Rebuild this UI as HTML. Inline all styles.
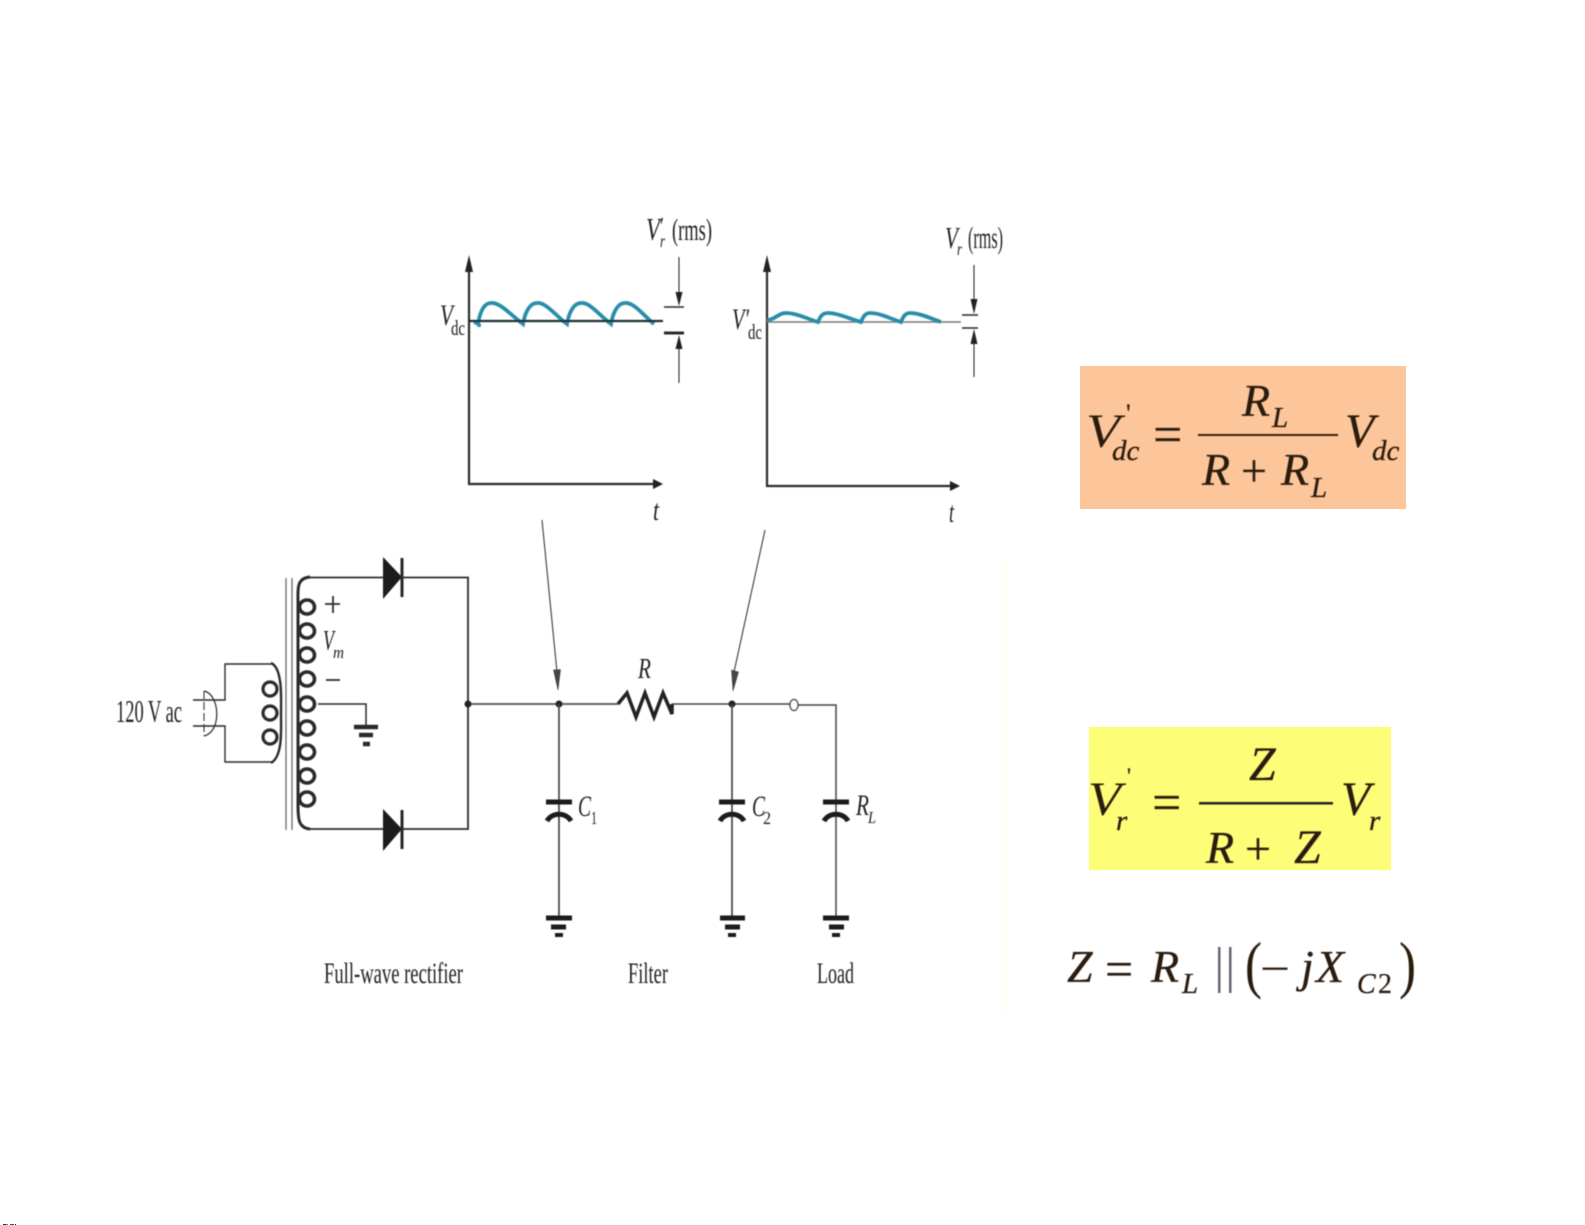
<!DOCTYPE html>
<html><head><meta charset="utf-8"><style>
html,body{margin:0;padding:0;background:#fff}
svg{display:block}
text{font-family:"Liberation Serif",serif;fill:#222}
.i{font-style:italic}
.f{font-family:"Liberation Serif",serif;font-style:italic;fill:#2a1a10;stroke:#2a1a10;stroke-width:.3}
.n{font-family:"Liberation Serif",serif;fill:#2a1a10;stroke:#2a1a10;stroke-width:.2}
</style></head><body>
<svg width="1585" height="1225" viewBox="0 0 1585 1225" xmlns="http://www.w3.org/2000/svg">
<defs><filter id="b" x="-5%" y="-5%" width="110%" height="110%"><feGaussianBlur stdDeviation="0.5"/></filter></defs>
<rect width="1585" height="1225" fill="#fff"/>
<rect x="1000" y="560" width="7" height="450" fill="#fffdf8"/>
<rect x="3" y="1224" width="5" height="1" fill="#333"/><rect x="6" y="1224" width="2" height="1" fill="#2a8"/><rect x="10" y="1224" width="4" height="1" fill="#448"/><rect x="15" y="1224" width="1" height="1" fill="#222"/>

<g filter="url(#b)" fill="none" stroke="#2b2b2b" stroke-width="1.5">
<!-- left graph -->
<path d="M469 262V484H658" stroke-width="2.200"/>
<path d="M469 255l-4 17h8z M663 484l-10-5v10z" fill="#222" stroke="none"/>
<path d="M474 322C480 324 480 327 478 324C480 312 484 303 491 303C500 302 512 316 523 324C525 312 530 303 537 303C546 302 556 316 567 324C569 312 574 303 581 303C590 302 600 316 611 324C613 312 618 303 625 303C634 302 644 316 654 324" stroke="#2b8ea8" stroke-width="3.800"/>
<path d="M469 321H663" stroke="#1d2f35" stroke-width="2.200"/>
<path d="M664 307H684" stroke-width="1.600"/><path d="M664 333H684" stroke-width="3"/>
<path d="M679 257V295M679 345V383" stroke-width="1.100"/>
<path d="M679 306l-3.500-14h7z M679 335l-3.500 14h7z" fill="#222" stroke="none"/>
<!-- right graph -->
<path d="M767 262V486H952" stroke-width="2.200"/>
<path d="M767 255l-4 17h8z M960 486l-10-5v10z" fill="#222" stroke="none"/>
<path d="M767 322H961" stroke="#777" stroke-width="1.500"/>
<path d="M767 320C775 320 778 313 786 313C796 313 808 319 818 322C820 317 822 313 828 313C838 313 850 319 861 322C863 317 865 313 870 313C880 313 891 319 901 322C903 317 905 313 910 313C920 313 932 319 941 322" stroke="#2b8ea8" stroke-width="3.800"/>
<path d="M962 315H978M962 328H978" stroke-width="1.500"/>
<path d="M974 265V302M974 342V377" stroke-width="1.100"/>
<path d="M974 314l-3.500-15h7z M974 329l-3.500 15h7z" fill="#222" stroke="none"/>
<!-- pointer arrows -->
<path d="M542 520L557 672M765 530L734 672" stroke-width="1"/>
<path d="M558 690l-4.500-20 7-.500z M733 691l-1.500-21 7 2z" fill="#444" stroke="#333" stroke-width=".5"/>

<!-- primary -->
<path d="M272 664H225V700H193M193 726H225V762H272" stroke-width="1.400"/>
<path d="M271 663C283 668 281 700 281 713C281 730 283 756 271 763" stroke-width="2.400"/>
<ellipse cx="270" cy="689" rx="7" ry="7" stroke-width="3.200"/>
<ellipse cx="270" cy="713" rx="7" ry="7" stroke-width="3.200"/>
<ellipse cx="270" cy="737" rx="7" ry="7" stroke-width="3.200"/>
<path d="M204 691C220 694 222 732 204 736" stroke-width="1.200"/>
<path d="M204 691V736" stroke-width="1" stroke-dasharray="8 3"/>
<!-- core -->
<path d="M286 578V830M292 578V830" stroke-width="1.300" stroke="#666"/>
<!-- secondary -->
<path d="M310 577C296 578 298 590 298 602V804C298 818 298 828 310 829" stroke-width="3"/>
<g stroke-width="3.600"><ellipse cx="307" cy="607" rx="7.500" ry="7"/><ellipse cx="307" cy="631" rx="7.500" ry="7"/><ellipse cx="307" cy="655" rx="7.500" ry="7"/><ellipse cx="307" cy="679" rx="7.500" ry="7"/><ellipse cx="307" cy="704" rx="7.500" ry="7"/><ellipse cx="307" cy="728" rx="7.500" ry="7"/><ellipse cx="307" cy="752" rx="7.500" ry="7"/><ellipse cx="307" cy="776" rx="7.500" ry="7"/><ellipse cx="307" cy="799" rx="7.500" ry="7"/></g>
<path d="M310 577.500H383M402 577.500H468V829H402M383 829H310" stroke-width="1.800"/>
<path d="M383 557L402 577L383 599z M383 809L402 829L383 851z" fill="#1d1d1d" stroke="none"/>
<path d="M402 558V597M402 810V849" stroke-width="3"/>
<path d="M318 704H366V725" stroke-width="1.500"/>
<path d="M354 727H378" stroke-width="4.500"/><path d="M359 735H373" stroke-width="4.500"/><path d="M363 744H370" stroke-width="4.500"/>
<path d="M333 596V613M325 604H340M326 680H340" stroke-width="1.800"/>
<!-- main bus -->
<path d="M468 704H618" stroke="#666" stroke-width="2"/>
<path d="M672 704H790M798 705H836V917" stroke-width="1.500" stroke="#444"/>
<path d="M618 704L627 693L636 717L645 693L654 717L663 693L672 714V704" stroke-width="3.500" stroke="#222"/>
<circle cx="468" cy="704" r="3.500" fill="#222" stroke="none"/>
<circle cx="559" cy="704" r="3.500" fill="#222" stroke="none"/>
<circle cx="732" cy="704" r="3.500" fill="#222" stroke="none"/>
<ellipse cx="794" cy="705" rx="4" ry="5.500" fill="#fff" stroke-width="1.300"/>
<path d="M559 704V917M732 704V917" stroke-width="1.700" stroke="#444"/>
<!-- capacitors -->
<g stroke="#1f1f1f" stroke-width="5">
<path d="M546 802H572M719 802H745M823 802H849"/>
<path d="M547 821C552 812 566 812 571 821M720 821C725 812 739 812 744 821M824 821C829 812 843 812 848 821" stroke-width="5"/>
<path d="M546 918H572M720 918H745M823 918H849"/>
<path d="M551 927H566M725 927H740M829 927H844"/>
<path d="M555 935H563M728 935H736M832 935H840" stroke-width="4"/>
</g>
</g>

<g filter="url(#b)">
<text x="646" y="240" font-size="32" class="i" textLength="14" lengthAdjust="spacingAndGlyphs">V</text>
<text x="660" y="234" font-size="24" textLength="4" lengthAdjust="spacingAndGlyphs">′</text>
<text x="660" y="247" font-size="18" class="i" textLength="5" lengthAdjust="spacingAndGlyphs">r</text>
<text x="672" y="240" font-size="31" textLength="40" lengthAdjust="spacingAndGlyphs">(rms)</text>
<text x="945" y="248" font-size="31" class="i" textLength="13" lengthAdjust="spacingAndGlyphs">V</text>
<text x="957" y="255" font-size="18" class="i" textLength="5" lengthAdjust="spacingAndGlyphs">r</text>
<text x="968" y="248" font-size="31" textLength="35" lengthAdjust="spacingAndGlyphs">(rms)</text>
<text x="440" y="325" font-size="30" class="i" textLength="13" lengthAdjust="spacingAndGlyphs">V</text>
<text x="451" y="335" font-size="21" textLength="14" lengthAdjust="spacingAndGlyphs">dc</text>
<text x="732" y="329" font-size="30" class="i" textLength="17" lengthAdjust="spacingAndGlyphs">V′</text>
<text x="748" y="339" font-size="21" textLength="14" lengthAdjust="spacingAndGlyphs">dc</text>
<text x="653" y="520" font-size="30" class="i" textLength="6" lengthAdjust="spacingAndGlyphs">t</text>
<text x="949" y="522" font-size="30" class="i" textLength="5" lengthAdjust="spacingAndGlyphs">t</text>

<text x="116" y="722" font-size="32" textLength="66" lengthAdjust="spacingAndGlyphs">120 V ac</text>
<text x="323" y="650" font-size="28" class="i" textLength="11" lengthAdjust="spacingAndGlyphs">V</text>
<text x="333" y="658" font-size="17" class="i" textLength="11" lengthAdjust="spacingAndGlyphs">m</text>
<text x="638" y="678" font-size="28" class="i" textLength="13" lengthAdjust="spacingAndGlyphs">R</text>
<text x="578" y="816" font-size="30" class="i" textLength="13" lengthAdjust="spacingAndGlyphs">C</text>
<text x="591" y="824" font-size="18" textLength="6" lengthAdjust="spacingAndGlyphs">1</text>
<text x="752" y="816" font-size="30" class="i" textLength="13" lengthAdjust="spacingAndGlyphs">C</text>
<text x="763" y="824" font-size="18" textLength="8" lengthAdjust="spacingAndGlyphs">2</text>
<text x="856" y="815" font-size="30" class="i" textLength="13" lengthAdjust="spacingAndGlyphs">R</text>
<text x="868" y="823" font-size="17" class="i" textLength="8" lengthAdjust="spacingAndGlyphs">L</text>
<text x="324" y="983" font-size="30" textLength="139" lengthAdjust="spacingAndGlyphs">Full-wave rectifier</text>
<text x="628" y="983" font-size="30" textLength="40" lengthAdjust="spacingAndGlyphs">Filter</text>
<text x="817" y="983" font-size="30" textLength="37" lengthAdjust="spacingAndGlyphs">Load</text>
</g>

<!-- formula boxes -->
<rect x="1080" y="366" width="326" height="143" fill="#fcc69a"/>
<rect x="1089" y="727" width="302" height="143" fill="#fdfd78"/>
<g filter="url(#b)">
<text class="f" style="stroke-width:0" x="1086" y="447" font-size="48" textLength="34" lengthAdjust="spacingAndGlyphs">V</text>
<text class="n" x="1126" y="422" font-size="26">'</text>
<text class="f" x="1112" y="460" font-size="29">dc</text>
<text class="n" x="1153" y="452" font-size="52">=</text>
<text class="f" x="1242" y="416" font-size="46">R</text>
<text class="f" x="1272" y="427" font-size="29">L</text>
<rect x="1198" y="434" width="140" height="2" fill="#3a2010"/>
<text class="f" x="1202" y="485" font-size="46">R</text>
<text class="n" x="1241" y="486" font-size="46">+</text>
<text class="f" x="1281" y="485" font-size="46">R</text>
<text class="f" x="1311" y="497" font-size="29">L</text>
<text class="f" x="1345" y="447" font-size="48">V</text>
<text class="f" x="1372" y="460" font-size="29">dc</text>

<text class="f" style="stroke-width:0" x="1088" y="815" font-size="48" textLength="33" lengthAdjust="spacingAndGlyphs">V</text>
<text class="n" x="1127" y="783" font-size="22">'</text>
<text class="f" x="1116" y="830" font-size="29">r</text>
<text class="n" x="1152" y="820" font-size="52">=</text>
<text class="f" x="1249" y="780" font-size="48">Z</text>
<rect x="1199" y="802" width="134" height="2.500" fill="#222"/>
<text class="f" x="1206" y="863" font-size="46">R</text>
<text class="n" x="1245" y="864" font-size="46">+</text>
<text class="f" x="1294" y="863" font-size="48">Z</text>
<text class="f" x="1341" y="815" font-size="48">V</text>
<text class="f" x="1369" y="830" font-size="29">r</text>

<text class="f" x="1067" y="982" font-size="46">Z</text>
<text class="n" x="1105" y="986" font-size="50">=</text>
<text class="f" x="1151" y="982" font-size="46">R</text>
<text class="f" x="1182" y="993" font-size="29">L</text>
<rect x="1218" y="947" width="2.500" height="46" fill="#667"/>
<rect x="1229" y="947" width="2.500" height="46" fill="#667"/>
<text class="n" style="stroke:none" x="1245" y="986" font-size="64" textLength="17" lengthAdjust="spacingAndGlyphs">(</text>
<text class="n" x="1260" y="982" font-size="40" textLength="30" lengthAdjust="spacingAndGlyphs">−</text>
<text class="f" x="1301" y="982" font-size="46">j</text>
<text class="f" x="1316" y="982" font-size="46">X</text>
<text class="f" x="1357" y="993" font-size="28">C</text>
<text class="n" x="1378" y="993" font-size="28">2</text>
<text class="n" style="stroke:none" x="1399" y="986" font-size="64" textLength="17" lengthAdjust="spacingAndGlyphs">)</text>
</g>
</svg>
</body></html>
